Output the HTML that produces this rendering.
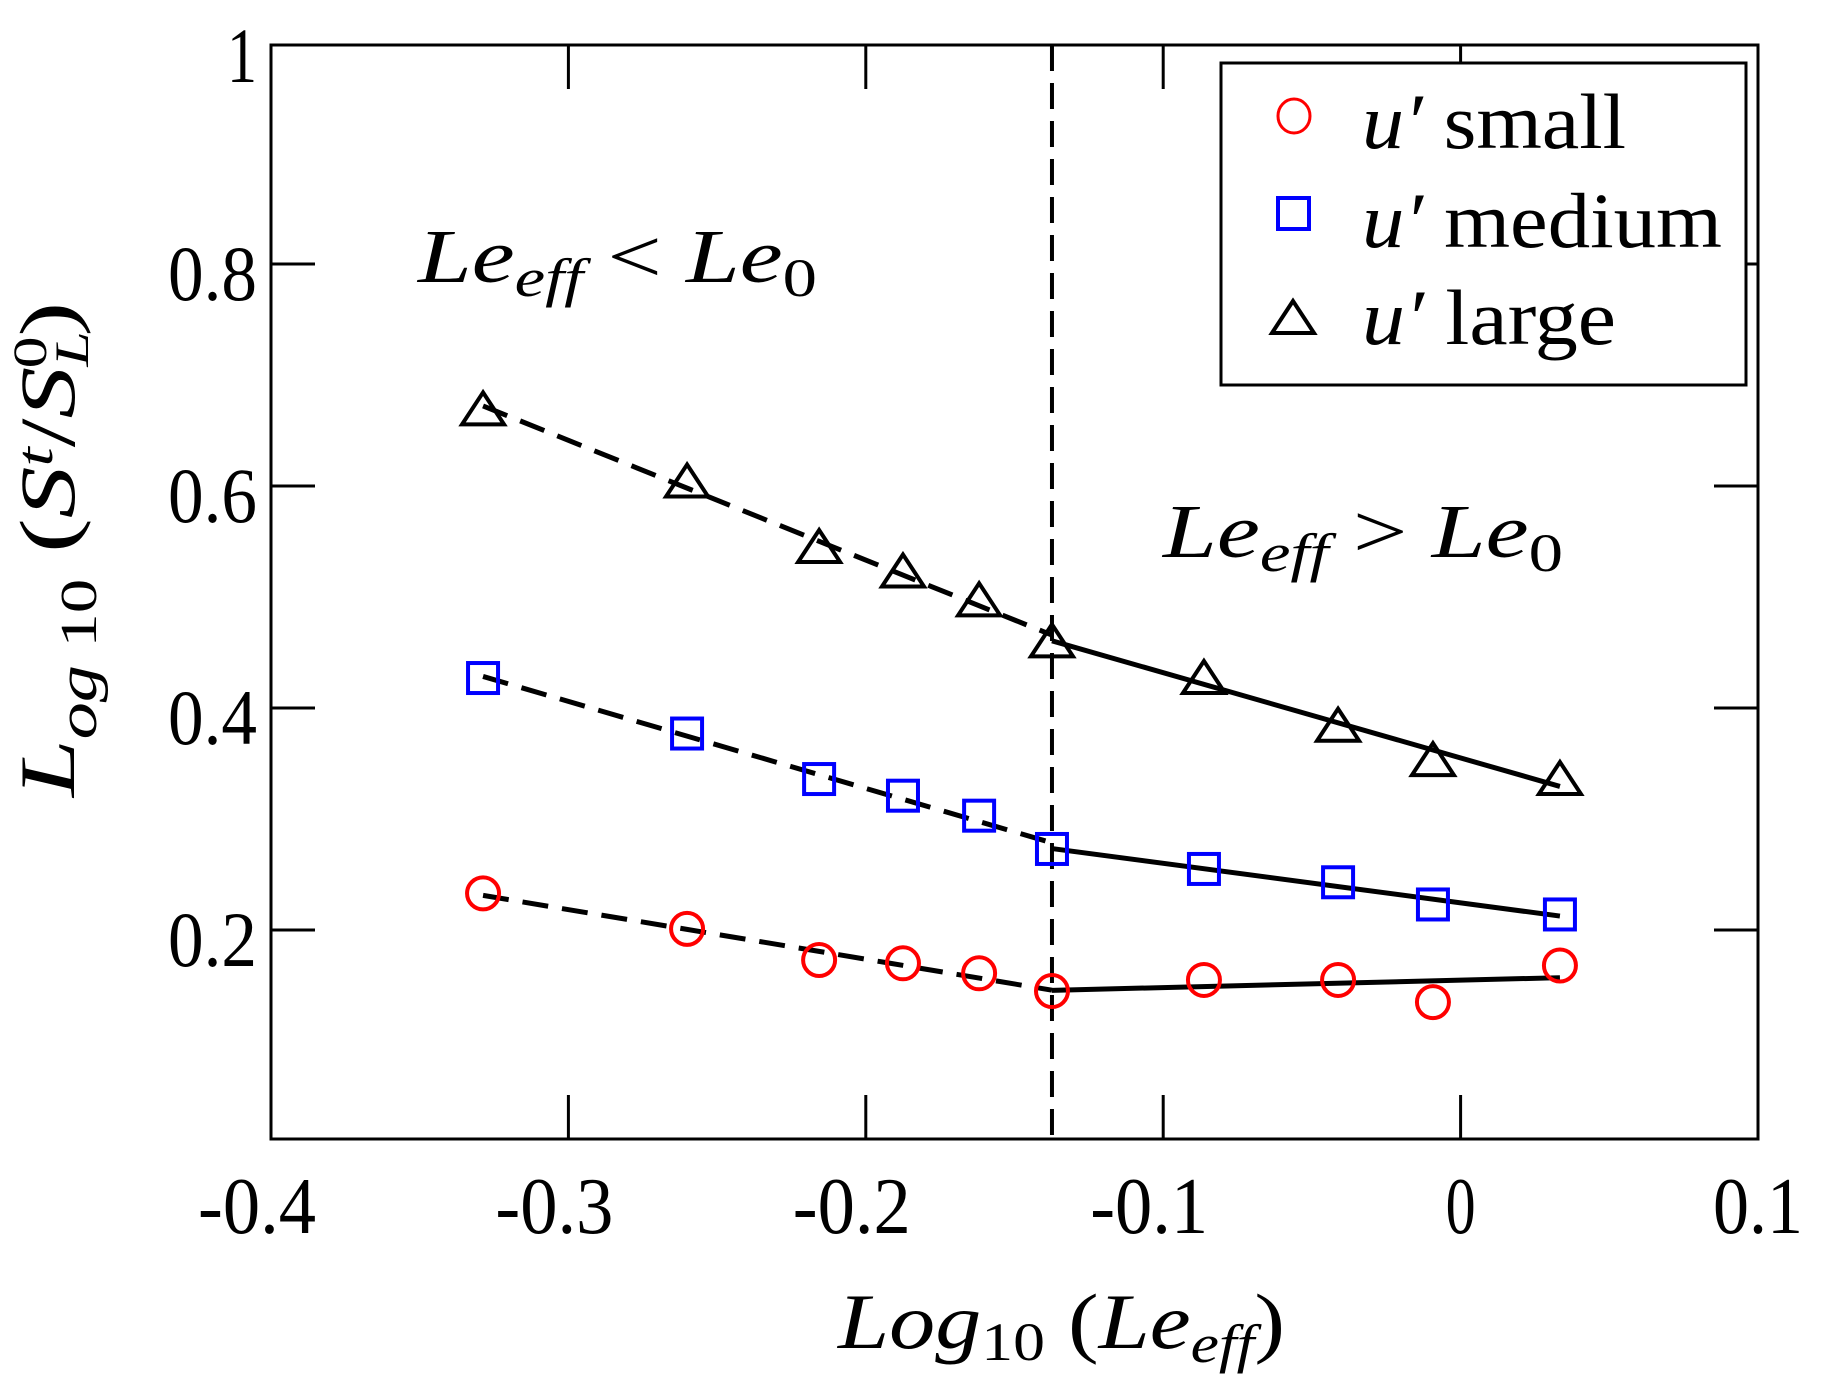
<!DOCTYPE html>
<html><head><meta charset="utf-8">
<style>
html,body{margin:0;padding:0;background:#fff;}
svg{display:block;}
text{font-family:"Liberation Serif",serif;fill:#000;}
.it{font-style:italic;}
</style></head>
<body>
<svg id="chart" width="1828" height="1395" viewBox="0 0 1828 1395" xmlns="http://www.w3.org/2000/svg">
  <rect x="0" y="0" width="1828" height="1395" fill="#fff"/>
  <g id="axes"></g>
  <g id="marks"></g>
  <!-- annotations -->
  <text x="418" y="282" font-size="76" textLength="399" lengthAdjust="spacingAndGlyphs"><tspan class="it">Le</tspan><tspan class="it" font-size="54" dy="14">eff</tspan><tspan dy="-14"> &lt; </tspan><tspan class="it">Le</tspan><tspan font-size="54" dy="14">0</tspan></text>
  <text x="1163" y="557" font-size="76" textLength="400" lengthAdjust="spacingAndGlyphs"><tspan class="it">Le</tspan><tspan class="it" font-size="54" dy="14">eff</tspan><tspan dy="-14"> &gt; </tspan><tspan class="it">Le</tspan><tspan font-size="54" dy="14">0</tspan></text>
  <!-- axis titles -->
  <text x="838" y="1348" font-size="78" textLength="447" lengthAdjust="spacingAndGlyphs"><tspan class="it">Log</tspan><tspan font-size="54" dy="12">10</tspan><tspan dy="-12"> (</tspan><tspan class="it">Le</tspan><tspan class="it" font-size="54" dy="14">eff</tspan><tspan dy="-14">)</tspan></text>
  <text transform="translate(74,797) rotate(-90)" x="0" y="0" font-size="78" textLength="495" lengthAdjust="spacingAndGlyphs"><tspan class="it">L</tspan><tspan class="it" font-size="56" dy="22">og</tspan><tspan font-size="52"> 10</tspan><tspan dy="-22"> (</tspan><tspan class="it">S</tspan><tspan class="it" font-size="52" dy="-22">t</tspan><tspan dy="22">/</tspan><tspan class="it">S</tspan><tspan class="it" font-size="48" dy="14">L</tspan><tspan font-size="48" dx="-28" dy="-42">0</tspan><tspan dy="28">)</tspan></text>
  <!-- legend -->
  <g>
    <rect x="1221" y="63" width="525" height="322" fill="#fff" stroke="#000" stroke-width="3"/>
    <g>
      <ellipse cx="1294" cy="116" rx="16" ry="17" fill="none" stroke="#ff0000" stroke-width="3"/>
      <text x="1362" y="148" font-size="78" textLength="264" lengthAdjust="spacingAndGlyphs"><tspan class="it">u′</tspan>  small</text>
    </g>
    <g>
      <rect x="1278" y="198" width="31" height="31" fill="none" stroke="#0000ff" stroke-width="4"/>
      <text x="1362" y="247" font-size="78" textLength="360" lengthAdjust="spacingAndGlyphs"><tspan class="it">u′</tspan>  medium</text>
    </g>
    <g>
      <polygon points="1293,301 1272,333 1314,333" fill="none" stroke="#000" stroke-width="4"/>
      <text x="1362" y="344" font-size="78" textLength="254" lengthAdjust="spacingAndGlyphs"><tspan class="it">u′</tspan>  large</text>
    </g>
  </g>
</svg>
<script>
const xs = [-0.3287, -0.2601, -0.2157, -0.1875, -0.1619, -0.1374, -0.0863, -0.0412, -0.0093, 0.0334];
const largeVals = [0.669, 0.604, 0.545, 0.523, 0.497, 0.460, 0.427, 0.384, 0.353, 0.336];
const mediumVals = [0.427, 0.377, 0.336, 0.321, 0.303, 0.273, 0.255, 0.243, 0.223, 0.214];
const smallVals = [0.233, 0.201, 0.173, 0.170, 0.161, 0.145, 0.155, 0.155, 0.135, 0.168];
const xTicks = [-0.4, -0.3, -0.2, -0.1, 0, 0.1];
const xTickLabels = ["-0.4", "-0.3", "-0.2", "-0.1", "0", "0.1"];
const yTicks = [0.2, 0.4, 0.6, 0.8, 1];
const yTickLabels = ["0.2", "0.4", "0.6", "0.8", "1"];
const leDivide = -0.1374;
const splitIndex = 5;

const NS = "http://www.w3.org/2000/svg";
const X0 = 271, X1 = 1758, Ytop = 45, Ybot = 1139;
function sx(v){ return X0 + (v + 0.4) * (X1 - X0) / 0.5; }
function sy(v){ return 930 - (v - 0.2) * 1110; }
function mk(tag, attrs, parent){
  const e = document.createElementNS(NS, tag);
  for (const k in attrs) e.setAttribute(k, attrs[k]);
  parent.appendChild(e);
  return e;
}
const axes = document.getElementById('axes');
const marks = document.getElementById('marks');

const frame = mk('rect', {x:X0, y:Ytop, width:X1-X0, height:Ybot-Ytop, fill:'none', stroke:'#000', 'stroke-width':3}, axes);



xTicks.forEach((t, i) => {
  const x = sx(t);
  if (i > 0 && i < xTicks.length - 1) {
    const a = mk('line', {x1:x, x2:x, y1:Ybot, y2:Ybot-44, stroke:'#000', 'stroke-width':3}, axes);
    
    
    const b = mk('line', {x1:x, x2:x, y1:Ytop, y2:Ytop+44, stroke:'#000', 'stroke-width':3}, axes);
    
    
  }
  const lab = xTickLabels[i];
  const neg = lab.charAt(0) === '-';
  const tl = mk('text', {x: neg ? x - 14 : x, y:1233, 'font-size':80, 'text-anchor':'middle', textLength: neg ? 118 : lab.length * 30, lengthAdjust:'spacingAndGlyphs'}, axes);
  tl.textContent = lab;
  
  
});
yTicks.forEach((t, i) => {
  const y = sy(t);
  if (t < 1) {
    const a = mk('line', {x1:X0, x2:X0+44, y1:y, y2:y, stroke:'#000', 'stroke-width':3}, axes);
    
    
    const b = mk('line', {x1:X1, x2:X1-44, y1:y, y2:y, stroke:'#000', 'stroke-width':3}, axes);
    
    
  }
  const lab = yTickLabels[i];
  const tl = mk('text', {x:257, y:Math.max(y + 36, 82), 'font-size':78, 'text-anchor':'end', textLength: lab.length === 1 ? 30 : 89, lengthAdjust:'spacingAndGlyphs'}, axes);
  tl.textContent = lab;
  
  
});

const vline = mk('line', {x1:sx(leDivide), x2:sx(leDivide), y1:Ytop, y2:Ybot, stroke:'#000', 'stroke-width':4, 'stroke-dasharray':'26 12'}, marks);



function fit(xa, ya){
  const n = xa.length;
  const mx = xa.reduce((a,b)=>a+b,0)/n, my = ya.reduce((a,b)=>a+b,0)/n;
  let num = 0, den = 0;
  for (let i=0;i<n;i++){ num += (xa[i]-mx)*(ya[i]-my); den += (xa[i]-mx)*(xa[i]-mx); }
  const s = num/den;
  return v => my + s*(v - mx);
}
function drawFits(vals, name){
  const lx = xs.slice(0, splitIndex+1), ly = vals.slice(0, splitIndex+1);
  const rx = xs.slice(splitIndex), ry = vals.slice(splitIndex);
  const f1 = fit(lx, ly), f2 = fit(rx, ry);
  const a = lx[0], b = lx[lx.length-1];
  const l1 = mk('line', {x1:sx(a), y1:sy(f1(a)), x2:sx(b), y2:sy(f1(b)), stroke:'#000', 'stroke-width':5, 'stroke-dasharray':'26 14'}, marks);
  
  
  const c = rx[0], d = rx[rx.length-1];
  const l2 = mk('line', {x1:sx(c), y1:sy(f2(c)), x2:sx(d), y2:sy(f2(d)), stroke:'#000', 'stroke-width':5}, marks);
  
  
}
drawFits(largeVals, 'large');
drawFits(mediumVals, 'medium');
drawFits(smallVals, 'small');

xs.forEach((x, i) => {
  const px = sx(x);
  const t = mk('polygon', {points:`${px},${sy(largeVals[i])-17} ${px-21},${sy(largeVals[i])+15} ${px+21},${sy(largeVals[i])+15}`, fill:'none', stroke:'#000', 'stroke-width':4}, marks);
  
  
  const s = mk('rect', {x:px-15, y:sy(mediumVals[i])-15, width:30, height:30, fill:'none', stroke:'#0000ff', 'stroke-width':4}, marks);
  
  
  const c = mk('ellipse', {cx:px, cy:sy(smallVals[i]), rx:16, ry:16, fill:'none', stroke:'#ff0000', 'stroke-width':4}, marks);
  
  
});
</script>
</body></html>
